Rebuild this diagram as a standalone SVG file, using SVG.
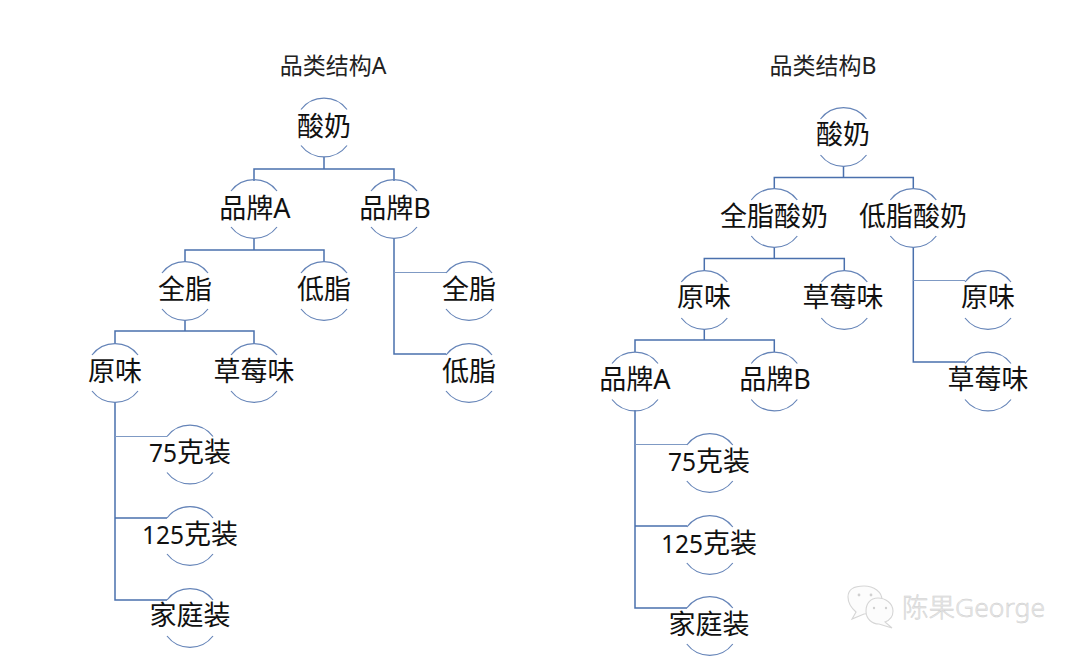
<svg xmlns="http://www.w3.org/2000/svg" width="1080" height="659" viewBox="0 0 1080 659">
<style>
text{font-family:"Noto Sans","Noto Sans CJK SC",sans-serif;fill:#111;text-anchor:middle}
.n{font-size:27px}
.d{font-size:24.5px}
.t{font-size:23px;fill:#222}
.arc{fill:none;stroke:#6584b8;stroke-width:1.2}
.c{fill:none;stroke:#4a70ad;stroke-width:1.5}
.c2{fill:none;stroke:#7f9ac4;stroke-width:1}
.w{font-size:26.500px;font-weight:300;fill:#e8e8e8;stroke:#cbcbcb;stroke-width:.4;text-anchor:start}
.wi{fill:#fcfcfc;stroke:#d6d6d6;stroke-width:1.1}
.dot{fill:#d0d0d0}
</style>
<defs>
<path id="a" class="arc" d="M-23-18A29 29 0 0 1 23-18M-23 18A29 29 0 0 0 23 18"/>
</defs>
<rect width="1080" height="659" fill="#fff"/>
<g id="connectors">
<path class="c" d="M324 157V169M254 181V169H394V181M254 238V250M185 262V250H324V262M185 320V331M115 344V331H254V344M115 402V600H167M115 518H167M394 238V354H446"/>
<path class="c2" d="M115 436.500H167M394 272.500H446"/>
<path class="c" d="M843.500 166V177.500M774.300 189V177.500H913.300V189M774.300 247V258.500M704.300 271V258.500H844.300V271M704.300 329V340M635 352V340H774.300V352M635 410V608H687M635 526H687M913.300 247V362H965"/>
<path class="c2" d="M635 444.500H687M913.300 280.500H965"/>
</g>
<text class="t" x="333" y="74">品类结构A</text>
<text class="t" x="823" y="74">品类结构B</text>
<g id="a1"><use href="#a" x="324" y="127.500"/><text class="n" x="324" y="136">酸奶</text></g>
<g id="a2"><use href="#a" x="254" y="209"/><text class="n" x="255" y="218">品牌A</text></g>
<g id="a3"><use href="#a" x="394" y="209"/><text class="n" x="395" y="218">品牌B</text></g>
<g id="a4"><use href="#a" x="185" y="291"/><text class="n" x="185" y="299">全脂</text></g>
<g id="a5"><use href="#a" x="324" y="291"/><text class="n" x="324" y="299">低脂</text></g>
<g id="a6"><use href="#a" x="469" y="291"/><text class="n" x="469" y="299">全脂</text></g>
<g id="a7"><use href="#a" x="469" y="373"/><text class="n" x="469" y="381">低脂</text></g>
<g id="a8"><use href="#a" x="115" y="373"/><text class="n" x="115" y="381">原味</text></g>
<g id="a9"><use href="#a" x="254" y="373"/><text class="n" x="254" y="381">草莓味</text></g>
<g id="a10"><use href="#a" x="190" y="454.500"/><text class="n" x="190" y="462"><tspan class="d">75</tspan>克装</text></g>
<g id="a11"><use href="#a" x="190" y="536"/><text class="n" x="190" y="544"><tspan class="d">125</tspan>克装</text></g>
<g id="a12"><use href="#a" x="190" y="618"/><text class="n" x="190" y="625">家庭装</text></g>
<g id="b1"><use href="#a" x="843.500" y="137"/><text class="n" x="843" y="144">酸奶</text></g>
<g id="b2"><use href="#a" x="774.300" y="218"/><text class="n" x="774" y="226">全脂酸奶</text></g>
<g id="b3"><use href="#a" x="913.300" y="218"/><text class="n" x="913" y="226">低脂酸奶</text></g>
<g id="b4"><use href="#a" x="704.300" y="300"/><text class="n" x="704" y="307">原味</text></g>
<g id="b5"><use href="#a" x="844.300" y="300"/><text class="n" x="843" y="307">草莓味</text></g>
<g id="b6"><use href="#a" x="988" y="300"/><text class="n" x="988" y="307">原味</text></g>
<g id="b7"><use href="#a" x="988" y="381.500"/><text class="n" x="988" y="389">草莓味</text></g>
<g id="b8"><use href="#a" x="635" y="381.500"/><text class="n" x="635" y="389">品牌A</text></g>
<g id="b9"><use href="#a" x="774.300" y="381.500"/><text class="n" x="775" y="389">品牌B</text></g>
<g id="b10"><use href="#a" x="709.800" y="463"/><text class="n" x="709" y="471"><tspan class="d">75</tspan>克装</text></g>
<g id="b11"><use href="#a" x="709.800" y="545"/><text class="n" x="709" y="553"><tspan class="d">125</tspan>克装</text></g>
<g id="b12"><use href="#a" x="709.800" y="626"/><text class="n" x="709" y="634">家庭装</text></g>
<g id="watermark">
<path class="wi" d="M856 612Q848 605 848 597C848 588 856 586 864 586C874 586 882 592 882 600C882 608 872 614 864 614L852 619Z"/>
<path class="wi" d="M885 622Q893 619 893 611C893 603 885 598 878 598C870 598 866 604 866 611C866 619 872 624 879 624L892 628Z"/>
<circle class="dot" cx="859" cy="595" r="1.4"/><circle class="dot" cx="871" cy="595" r="1.4"/><circle class="dot" cx="874" cy="608" r="1.2"/><circle class="dot" cx="886" cy="608" r="1.2"/>
<text class="w" x="902" y="617">陈果George</text>
</g>
</svg>
